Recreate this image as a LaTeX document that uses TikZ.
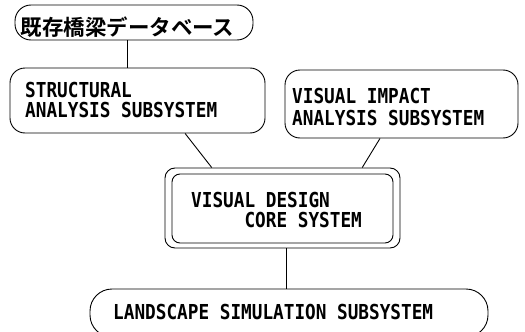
\documentclass[tikz,border=0pt]{standalone}
\usepackage{fontspec}
\usetikzlibrary{calc}
\newfontfamily\labfont[FakeStretch=0.86]{DejaVu Sans Mono Bold}
\newfontfamily\jpfont{Noto Sans CJK JP Bold}
\tikzset{
  boxshape/.style={draw, line width=0.9pt, rectangle, inner sep=0pt},
  labtext/.style={anchor=north west, inner sep=0pt, align=left,
    font=\labfont\fontsize{20.6}{20}\selectfont},
  link/.style={line width=0.9pt}
}
\begin{document}
\begin{tikzpicture}[x=1pt,y=-1pt]
\useasboundingbox (0,0) rectangle (525,332);
\clip (0,0) rectangle (525,332);
% boxes
\node[boxshape, rounded corners=16pt, minimum width=238pt, minimum height=35pt] (db) at (134,22.5) {};
\node[boxshape, rounded corners=15pt, minimum width=255pt, minimum height=65pt] (struct) at (137.5,100.5) {};
\node[boxshape, rounded corners=15pt, minimum width=233pt, minimum height=68pt] (impact) at (401.5,104) {};
\node[boxshape, rounded corners=10pt, minimum width=235pt, minimum height=80pt] (core) at (282.5,208) {};
\node[boxshape, rounded corners=8pt, minimum width=221pt, minimum height=69pt] (corein) at (282.5,208.5) {};
\node[boxshape, rounded corners=22pt, minimum width=398pt, minimum height=48pt] (land) at (289,313) {};
% texts
\node[anchor=base, inner sep=0pt, font=\jpfont\fontsize{21.5}{21.5}\selectfont] (dbtext) at (127.5,35.5) {既存橋梁データベース};
\node[labtext] (structtext) at (25,82) {STRUCTURAL\\ANALYSIS SUBSYSTEM};
\node[labtext, font=\labfont\fontsize{20.6}{21.7}\selectfont] (impacttext) at (292,88) {VISUAL IMPACT\\ANALYSIS SUBSYSTEM};
\node[labtext, font=\labfont\fontsize{20.6}{20.5}\selectfont] (coretext) at (191,192) {VISUAL DESIGN\\\phantom{XXXXX}CORE SYSTEM};
\node[labtext] (landtext) at (113,304) {LANDSCAPE SIMULATION SUBSYSTEM};
% connectors
\coordinate (dbp) at ($(db.south)+(-7,0)$);
\draw[link] (dbp) -- (dbp |- struct.north);
\draw[link] ($(struct.south west)!0.686!(struct.south east)$) -- ($(core.north west)!0.2!(core.north east)$);
\draw[link] ($(impact.south west)!0.408!(impact.south east)$) -- ($(core.north west)!0.838!(core.north east)$);
\coordinate (corep) at ($(core.south)+(3.5,0)$);
\draw[link] (corep) -- (corep |- land.north);
\end{tikzpicture}
\end{document}
